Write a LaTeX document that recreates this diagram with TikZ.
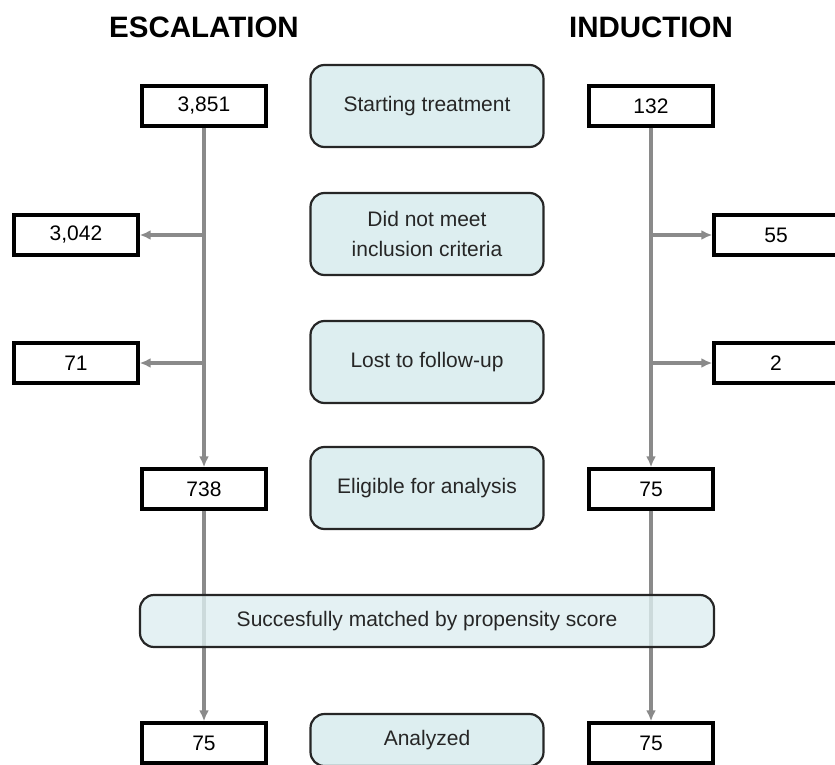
\documentclass[tikz,border=0pt]{standalone}
\usepackage{fontspec}
\setmainfont{Liberation Sans}
\usetikzlibrary{arrows.meta}
\definecolor{stagefill}{HTML}{DDEEF0}
\definecolor{flowgray}{HTML}{8A8A8A}
\begin{document}
\begin{tikzpicture}[x=1pt,y=-1pt,
    num/.style={draw, line width=3.4pt, minimum width=124pt, minimum height=40pt, inner sep=0pt, font=\fontsize{21}{25}\selectfont},
    stage/.style={draw=black!85, line width=2.2pt, rounded corners=14pt, fill=stagefill, minimum width=233pt, minimum height=82pt, align=center, inner sep=0pt, font=\fontsize{21}{30}\selectfont, text=black!85},
    flow/.style={draw=flowgray, line width=3.4pt, -{Latex[length=11pt,width=10pt]}},
    head/.style={font=\bfseries\fontsize{29.5}{34}\selectfont}]
    \useasboundingbox (0,0) rectangle (835,765);
    % column headers
    \node[head] (eschead) at (204,27) {ESCALATION};
    \node[head] (indhead) at (651,27) {INDUCTION};
    % middle column
    \node[stage] (start) at (427,106) {Starting treatment};
    \node[stage] (incl) at (427,234) {Did not meet\\inclusion criteria};
    \node[stage] (lost) at (427,362) {Lost to follow-up};
    \node[stage] (elig) at (427,488) {Eligible for analysis};
    \node[stage, minimum height=52pt] (anal) at (427,740) {Analyzed};
    % escalation side
    \node[num] (esc1) at (204,106) {3,851};
    \node[num] (escx) at (76,235) {3,042};
    \node[num] (escl) at (76,363) {71};
    \node[num] (esc4) at (204,489) {738};
    \node[num] (esc5) at (204,743) {75};
    % induction side
    \node[num] (ind1) at (651,106) {132};
    \node[num] (indx) at (776,235) {55};
    \node[num] (indl) at (776,363) {2};
    \node[num] (ind4) at (651,489) {75};
    \node[num] (ind5) at (651,743) {75};
    % branch points
    \coordinate (escb1) at (esc1 |- escx);
    \coordinate (escb2) at (esc1 |- escl);
    \coordinate (indb1) at (ind1 |- indx);
    \coordinate (indb2) at (ind1 |- indl);
    % arrows
    \draw[flow] (esc1) -- (esc4);
    \draw[flow] (escb1) -- (escx);
    \draw[flow] (escb2) -- (escl);
    \draw[flow] (ind1) -- (ind4);
    \draw[flow] (indb1) -- (indx);
    \draw[flow] (indb2) -- (indl);
    \draw[flow] (esc4) -- (esc5);
    \draw[flow] (ind4) -- (ind5);
    % matching box lies over the lines
    \node[stage, minimum width=574pt, minimum height=52pt, fill opacity=0.8, text opacity=1] (match) at (427,621) {Succesfully matched by propensity score};
\end{tikzpicture}
\end{document}
